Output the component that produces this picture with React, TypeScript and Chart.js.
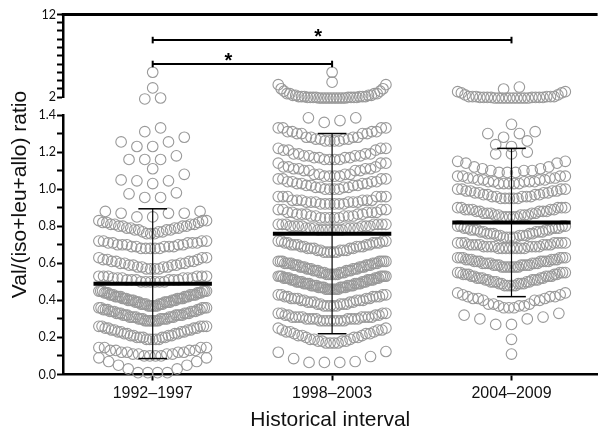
import React, { useEffect, useRef } from 'react';
import { Chart, registerables } from 'chart.js';

Chart.register(...registerables);

// ---------- data ----------
const categories = ['1992–1997', '1998–2003', '2004–2009'];
const means = [0.49, 0.76, 0.82];
const sds = [0.404, 0.54, 0.4];

const bottomTicks = [0, 0.1, 0.2, 0.3, 0.4, 0.5, 0.6, 0.7, 0.8, 0.9, 1.0, 1.1, 1.2, 1.3, 1.4];
const bottomTickLabels = ['0.0', '', '0.2', '', '0.4', '', '0.6', '', '0.8', '', '1.0', '', '1.2', '', '1.4'];
const topTicks = [2, 3, 4, 5, 6, 7, 8, 9, 10, 11, 12];
const topTickLabels = ['2', '', '', '', '', '', '', '', '', '', '12'];

const brackets = [
  { from: 1, to: 3, y: 8.9 },
  { from: 1, to: 2, y: 6.0 },
];

type Row = [number, number][]; // [value, count]

// 1992–1997
const g1TopRows: Row[] = [
  [[5.0, 1]],
  [[3.1, 1]],
  [[1.76, 1], [1.88, 1]],
];
const g1Rows: Row[] = [
  [[1.31, 1], [1.33, 1]],
  [[1.23, 2], [1.255, 2], [1.28, 1]],
  [[1.16, 3], [1.18, 1]],
  [[1.11, 1]],
  [[1.03, 1], [1.045, 2], [1.05, 1], [1.08, 1]],
  [[0.955, 2], [0.975, 1], [0.98, 1]],
  [[0.85, 2], [0.87, 3], [0.88, 2]],
  [[0.76, 3], [0.77, 3], [0.78, 4], [0.79, 4], [0.8, 4], [0.81, 4], [0.82, 3], [0.83, 3]],
  [[0.68, 5], [0.69, 5], [0.7, 5], [0.71, 5], [0.72, 4]],
  [[0.57, 4], [0.58, 4], [0.59, 4], [0.6, 4], [0.61, 4], [0.62, 3], [0.63, 3]],
  [[0.5, 6], [0.51, 6], [0.52, 6], [0.53, 6]],
  [[0.37, 6], [0.38, 7], [0.39, 7], [0.4, 7], [0.41, 7], [0.42, 7], [0.43, 7], [0.44, 6], [0.45, 6]],
  [[0.29, 7], [0.3, 7], [0.31, 7], [0.32, 7], [0.33, 6], [0.34, 6], [0.35, 5], [0.36, 5]],
  [[0.19, 5], [0.2, 5], [0.21, 4], [0.22, 4], [0.23, 4], [0.24, 4], [0.25, 4], [0.26, 5]],
  [[0.1, 4], [0.11, 4], [0.12, 4], [0.13, 4], [0.145, 4]],
  [[0.01, 4], [0.03, 2], [0.05, 2], [0.07, 2], [0.09, 2]],
];

// 1998–2003
const g2TopRows: Row[] = [
  [[5.0, 1]],
  [[3.8, 1]],
  [[1.88, 10], [1.95, 8], [2.05, 6], [2.2, 4], [2.4, 4], [2.7, 2], [3.0, 2], [3.5, 2]],
];
const g2Rows: Row[] = [
  [[1.36, 1], [1.37, 1], [1.385, 2]],
  [[1.26, 4], [1.27, 4], [1.28, 4], [1.3, 4], [1.31, 4], [1.33, 4]],
  [[1.16, 4], [1.17, 4], [1.18, 4], [1.19, 4], [1.21, 3], [1.22, 3]],
  [[1.07, 4], [1.08, 4], [1.1, 4], [1.11, 4], [1.12, 3], [1.14, 3]],
  [[1.0, 4], [1.01, 4], [1.02, 4], [1.03, 4], [1.04, 4], [1.055, 4]],
  [[0.92, 6], [0.93, 6], [0.94, 6], [0.96, 6]],
  [[0.845, 5], [0.855, 5], [0.865, 5], [0.875, 5], [0.89, 4]],
  [[0.78, 7], [0.79, 7], [0.8, 7], [0.81, 7]],
  [[0.66, 5], [0.67, 5], [0.68, 5], [0.69, 5], [0.7, 5], [0.71, 5], [0.72, 4]],
  [[0.54, 6], [0.55, 6], [0.56, 6], [0.57, 6], [0.58, 6], [0.59, 6], [0.6, 7], [0.61, 7]],
  [[0.46, 8], [0.47, 8], [0.48, 8], [0.49, 8], [0.5, 7], [0.51, 7], [0.52, 7], [0.53, 7]],
  [[0.37, 5], [0.38, 5], [0.39, 5], [0.4, 5], [0.41, 5], [0.42, 5], [0.43, 4]],
  [[0.29, 8], [0.3, 8], [0.31, 8], [0.32, 4], [0.33, 4]],
  [[0.17, 4], [0.18, 4], [0.19, 3], [0.2, 3], [0.21, 3], [0.22, 3], [0.23, 3], [0.24, 3], [0.25, 2]],
  [[0.065, 3], [0.07, 1], [0.086, 1], [0.097, 1], [0.12, 1], [0.124, 1]],
];

// 2004–2009
const g3TopRows: Row[] = [
  [[2.97, 1], [3.21, 1]],
  [[1.88, 10], [1.95, 8], [2.05, 6], [2.25, 2], [2.5, 2], [2.65, 2]],
];
const g3Rows: Row[] = [
  [[1.35, 1]],
  [[1.28, 1], [1.3, 2], [1.31, 1]],
  [[1.23, 1], [1.24, 1], [1.26, 1]],
  [[1.19, 2], [1.2, 1]],
  [[1.09, 3], [1.1, 3], [1.11, 2], [1.12, 2], [1.14, 2], [1.15, 2]],
  [[1.03, 5], [1.04, 5], [1.05, 4], [1.06, 4], [1.07, 4]],
  [[0.95, 5], [0.96, 5], [0.97, 4], [0.98, 4], [0.99, 4], [1.0, 4]],
  [[0.85, 5], [0.86, 5], [0.87, 5], [0.88, 5], [0.89, 5], [0.9, 5]],
  [[0.74, 5], [0.75, 5], [0.76, 5], [0.77, 5], [0.78, 5], [0.79, 5], [0.8, 4]],
  [[0.68, 8], [0.69, 8], [0.7, 7], [0.71, 7]],
  [[0.58, 7], [0.59, 7], [0.6, 7], [0.61, 7], [0.62, 6], [0.63, 6]],
  [[0.48, 5], [0.49, 5], [0.5, 5], [0.51, 5], [0.52, 5], [0.53, 5], [0.54, 5], [0.55, 5]],
  [[0.36, 3], [0.37, 3], [0.38, 3], [0.4, 3], [0.41, 3], [0.42, 3], [0.43, 2], [0.44, 2]],
  [[0.27, 2], [0.3, 2], [0.31, 1], [0.32, 1], [0.33, 1]],
  [[0.19, 1]],
  [[0.11, 1]],
];

// ---------- layout / style constants ----------
const GRAY = '#999999';
const ROW_HALF = 0.3; // half width of a full row (x units)
const ROW_STEP = 0.088; // max spacing between neighbouring points
const MEAN_HALF = 0.33;
const CAP_HALF = 0.08;

function swarm(rows: Row[], center: number) {
  const pts: { x: number; y: number }[] = [];
  for (const row of rows) {
    const vals: number[] = [];
    for (const [v, c] of row) for (let i = 0; i < c; i++) vals.push(v);
    vals.sort((a, b) => a - b);
    const n = vals.length;
    const d = n > 1 ? Math.min(ROW_STEP, (2 * ROW_HALF) / (n - 1)) : 0;
    const slots = Array.from({ length: n }, (_, k) => (k - (n - 1) / 2) * d);
    const order = slots
      .map((_, i) => i)
      .sort((a, b) => Math.abs(slots[a]) - Math.abs(slots[b]) || a - b);
    order.forEach((slot, i) => pts.push({ x: center + slots[slot], y: vals[i] }));
  }
  return pts;
}

function seg(x1: number, y1: number, x2: number, y2: number, axis: string, w: number) {
  return {
    type: 'scatter' as const,
    showLine: true,
    data: [
      { x: x1, y: y1 },
      { x: x2, y: y2 },
    ],
    xAxisID: 'x',
    yAxisID: axis,
    borderColor: '#000',
    borderWidth: w,
    pointRadius: 0,
    clip: false as any,
    order: 0,
  };
}

const annotPlugin = {
  id: 'annot',
  afterDraw(chart: any) {
    const { ctx, chartArea, scales } = chart;
    const yt = scales.yTop;
    const xs = scales.x;
    ctx.save();
    ctx.strokeStyle = '#000';
    ctx.lineWidth = 3;
    ctx.beginPath();
    ctx.moveTo(chartArea.left - 1.25, yt.top);
    ctx.lineTo(chartArea.right, yt.top);
    ctx.stroke();
    ctx.fillStyle = '#000';
    ctx.font = 'bold 20px "Liberation Sans"';
    ctx.textAlign = 'center';
    ctx.textBaseline = 'alphabetic';
    for (const b of brackets) {
      ctx.fillText('*', xs.getPixelForValue((b.from + b.to) / 2) - 14, yt.getPixelForValue(b.y) + 2.5);
    }
    ctx.restore();
  },
};

export default function App() {
  const ref = useRef<HTMLCanvasElement | null>(null);

  useEffect(() => {
    if (!ref.current) return;
    Chart.defaults.font.family = '"Liberation Sans", Arial, sans-serif';

    const pointSets = [
      [g1TopRows, 'yTop', 1],
      [g1Rows, 'yBot', 1],
      [g2TopRows, 'yTop', 2],
      [g2Rows, 'yBot', 2],
      [g3TopRows, 'yTop', 3],
      [g3Rows, 'yBot', 3],
    ].map(([rows, axis, c]) => ({
      type: 'scatter' as const,
      data: swarm(rows as Row[], c as number),
      xAxisID: 'x',
      yAxisID: axis as string,
      pointRadius: 5.3,
      pointBorderWidth: 1.1,
      pointBorderColor: GRAY,
      pointBackgroundColor: 'rgba(0,0,0,0)',
      clip: false as any,
      order: 2,
    }));

    const lineSets: any[] = [];
    means.forEach((m, i) => {
      const c = i + 1;
      const lo = m - sds[i];
      const hi = m + sds[i];
      lineSets.push(seg(c - MEAN_HALF, m, c + MEAN_HALF, m, 'yBot', 4));
      lineSets.push(seg(c, lo, c, hi, 'yBot', 1.2));
      lineSets.push(seg(c - CAP_HALF, hi, c + CAP_HALF, hi, 'yBot', 1.5));
      lineSets.push(seg(c - CAP_HALF, lo, c + CAP_HALF, lo, 'yBot', 1.5));
    });
    brackets.forEach((b) => {
      lineSets.push(seg(b.from, b.y, b.to, b.y, 'yTop', 2));
      lineSets.push(seg(b.from, b.y - 0.4, b.from, b.y + 0.4, 'yTop', 2));
      lineSets.push(seg(b.to, b.y - 0.4, b.to, b.y + 0.4, 'yTop', 2));
    });

    const yTickFont = { family: 'Lato', size: 12.5 };
    const yGrid = {
      display: true,
      drawOnChartArea: false,
      drawTicks: true,
      tickLength: 6,
      tickWidth: 2,
      tickColor: '#000',
      color: '#000',
    };
    const yBorder = { display: true, color: '#000', width: 2.5 };
    const stackW = (s: any) => {
      s.width = 40;
    };

    const chart = new Chart(ref.current, {
      type: 'scatter',
      data: { datasets: [...lineSets, ...pointSets] as any },
      plugins: [annotPlugin],
      options: {
        animation: false,
        responsive: false,
        events: [],
        layout: { padding: { top: 14.5, left: 0, right: 0, bottom: 0 } },
        plugins: { legend: { display: false }, tooltip: { enabled: false } },
        scales: {
          x: {
            type: 'linear',
            position: 'bottom',
            min: 0.5,
            max: 3.48,
            afterBuildTicks: (s: any) => {
              s.ticks = [1, 2, 3].map((v) => ({ value: v }));
            },
            afterFit: (s: any) => {
              s.height = 56.5;
            },
            ticks: {
              autoSkip: false,
              maxRotation: 0,
              padding: 3,
              color: '#111',
              font: { size: 16 },
              callback: (_v: any, i: number) => categories[i],
            },
            grid: {
              display: true,
              drawOnChartArea: false,
              drawTicks: true,
              tickLength: 6,
              tickWidth: 2,
              tickColor: '#000',
              color: '#000',
            },
            border: { display: true, color: '#000', width: 2.5 },
            title: {
              display: true,
              text: 'Historical interval',
              color: '#111',
              font: { size: 21, lineHeight: 1 },
              padding: { top: 0, bottom: 0 },
            },
          },
          yTitle: {
            type: 'linear',
            axis: 'y',
            position: 'left',
            weight: 10,
            afterFit: (s: any) => {
              s.width = 23;
            },
            ticks: { display: false },
            grid: { display: false },
            border: { display: false },
            title: {
              display: true,
              text: 'Val/(iso+leu+allo) ratio',
              color: '#111',
              font: { size: 21, lineHeight: 1 },
              padding: { top: 9.5, bottom: 0 },
            },
          },
          yBot: {
            type: 'linear',
            axis: 'y',
            position: 'left',
            stack: 'left',
            stackWeight: 259.5,
            min: 0,
            max: 1.4,
            afterBuildTicks: (s: any) => {
              s.ticks = bottomTicks.map((v) => ({ value: v }));
            },
            afterFit: stackW,
            ticks: {
              autoSkip: false,
              padding: 1,
              color: '#111',
              font: yTickFont,
              callback: (_v: any, i: number) => bottomTickLabels[i],
            },
            grid: yGrid,
            border: yBorder,
          },
          yGap: {
            type: 'linear',
            axis: 'y',
            position: 'left',
            stack: 'left',
            stackWeight: 18,
            afterFit: stackW,
            ticks: { display: false },
            grid: { display: false },
            border: { display: false },
          },
          yTop: {
            type: 'linear',
            axis: 'y',
            position: 'left',
            stack: 'left',
            stackWeight: 82.5,
            min: 2,
            max: 12,
            afterBuildTicks: (s: any) => {
              s.ticks = topTicks.map((v) => ({ value: v }));
            },
            afterFit: stackW,
            ticks: {
              autoSkip: false,
              padding: 1,
              color: '#111',
              font: yTickFont,
              callback: (_v: any, i: number) => topTickLabels[i],
            },
            grid: yGrid,
            border: yBorder,
          },
        } as any,
      },
    });
    return () => chart.destroy();
  }, []);

  return (
    <div style={{ position: 'absolute', left: 0, top: 0, width: 604, height: 431, background: '#fff' }}>
      <canvas ref={ref} width={604} height={431} style={{ display: 'block', width: 604, height: 431 }} />
    </div>
  );
}
